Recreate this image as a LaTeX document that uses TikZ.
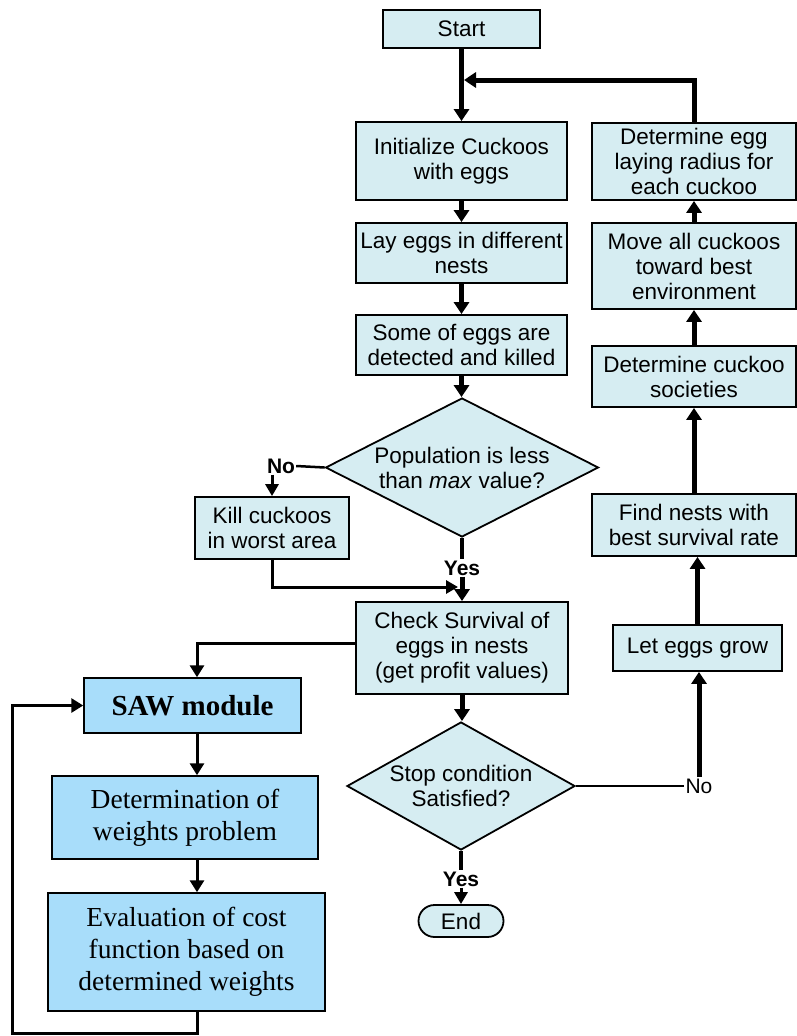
\documentclass[tikz,border=0pt]{standalone}
\usepackage{fontspec}
\setmainfont{Liberation Serif}
\newfontfamily\arialfont{Liberation Sans}
\usetikzlibrary{arrows.meta,%
		shapes.geometric,%
		positioning}
\definecolor{flowcyan}{RGB}{214,237,242}
\definecolor{sawblue}{RGB}{168,221,250}

\begin{document}
\begin{tikzpicture}[x=1pt,y=-1pt,
	flowbox/.style={draw,line width=1.8pt,fill=flowcyan,inner sep=0pt,align=center,
		font=\arialfont\fontsize{22.5}{25}\selectfont},
	flowdia/.style={flowbox,shape=diamond},
	sawbox/.style={draw,line width=1.5pt,fill=sawblue,inner sep=0pt,align=center,
		font=\fontsize{27.5}{32}\selectfont},
	tag/.style={inner sep=1pt,font=\arialfont\fontsize{21}{24}\selectfont},
	boldtag/.style={tag,font=\arialfont\bfseries\fontsize{21}{24}\selectfont},
	bigarrow/.style={line width=5pt,-{Triangle[width=15pt,length=12pt]}},
	midarrow/.style={line width=3pt,-{Triangle[width=13pt,length=12pt]}},
	sawarrow/.style={line width=3pt,-{Triangle[width=14pt,length=12pt]}}]

\useasboundingbox (0,0) rectangle (797,1036);

% cuckoo search, main column
\node[flowbox,minimum width=157pt,minimum height=38pt] (start) at (461.5,29) {Start};
\node[flowbox,minimum width=211pt,minimum height=78pt] (init) at (461.5,161) {Initialize Cuckoos\\with eggs};
\node[flowbox,minimum width=211pt,minimum height=60pt] (lay) at (461.5,253) {Lay eggs in different\\nests};
\node[flowbox,minimum width=211pt,minimum height=60pt] (detect) at (461.5,345) {Some of eggs are\\detected and killed};
\node[flowdia,aspect=1.96,minimum width=273pt,minimum height=139pt] (pop) at (462,467.5) {Population is less\\than \textit{max} value?};
\node[flowbox,minimum width=154pt,minimum height=62pt] (kill) at (272,528) {Kill cuckoos\\in worst area};
\node[flowbox,minimum width=212pt,minimum height=92pt] (check) at (462,648) {Check Survival of\\eggs in nests\\(get profit values)};
\node[flowdia,aspect=1.78,minimum width=228pt,minimum height=128pt] (stop) at (461,786) {Stop condition\\Satisfied?};
\node[flowbox,rounded corners=16pt,minimum width=85pt,minimum height=32pt] (end) at (461,921) {End};

% right column
\node[flowbox,minimum width=169pt,minimum height=46pt] (grow) at (697.5,648) {Let eggs grow};
\node[flowbox,minimum width=204pt,minimum height=62pt] (best) at (694,525) {Find nests with\\best survival rate};
\node[flowbox,minimum width=204pt,minimum height=61pt] (society) at (694,376.5) {Determine cuckoo\\societies};
\node[flowbox,minimum width=204pt,minimum height=86pt] (move) at (694,266) {Move all cuckoos\\toward best\\environment};
\node[flowbox,minimum width=204pt,minimum height=77pt] (radius) at (694,161.5) {Determine egg\\laying radius for\\each cuckoo};

% SAW column
\node[sawbox,minimum width=217pt,minimum height=55pt,font=\bfseries\fontsize{29}{32}\selectfont] (saw) at (192.5,705.5) {SAW module};
\node[sawbox,minimum width=266pt,minimum height=83pt] (weights) at (185,817.5) {Determination of\\weights problem};
\node[sawbox,minimum width=277pt,minimum height=118pt] (cost) at (186.5,952) {Evaluation of cost\\function based on\\determined weights};

% labels
\node[boldtag] (nopop) at (281,466) {No};
\node[boldtag] (yespop) at (462,568) {Yes};
\node[tag] (nostop) at (699,786) {No};
\node[boldtag] (yesstop) at (461,879) {Yes};

\coordinate (merge) at (464,80);
\coordinate (join) at (458,587);
\coordinate (colL) at (197,0);
\coordinate (loopl) at (12,1033);

% connectors
\draw[bigarrow] (start) -- (init);
\draw[bigarrow] (radius.north) |- (merge);
\draw[bigarrow] (init) -- (lay);
\draw[bigarrow] (lay) -- (detect);
\draw[bigarrow] (detect.south) -- (detect.south |- pop.north);
\draw[line width=2.5pt] (pop.west) -- (nopop.east);
\draw[midarrow] (kill.north |- nopop.south) -- (kill.north);
\draw[line width=4pt] (pop.south) -- (yespop.north);
\draw[midarrow] (kill.south) |- (join);
\draw[bigarrow] (yespop.south) -- (check.north);
\draw[bigarrow] (check.south) -- (check.south |- stop.north);
\draw[line width=2.5pt] (stop.east) -- (nostop.west);
\draw[bigarrow] (nostop.north) -- (nostop.north |- grow.south);
\draw[line width=4pt] (stop.south) -- (yesstop.north);
\draw[midarrow] (yesstop.south) -- (end.north);
\draw[bigarrow] (grow.north) -- (grow.north |- best.south);
\draw[bigarrow] (best.north) -- (society.south);
\draw[bigarrow] (society.north) -- (move.south);
\draw[bigarrow] (move.north) -- (radius.south);

\draw[sawarrow] ([yshift=5pt]check.west) -| (saw.north -| colL);
\draw[sawarrow] (saw.south -| colL) -- (weights.north -| colL);
\draw[sawarrow] (weights.south -| colL) -- (cost.north -| colL);
\draw[sawarrow] (cost.south -| colL) |- (loopl) |- (saw.west);

\end{tikzpicture}
\end{document}
